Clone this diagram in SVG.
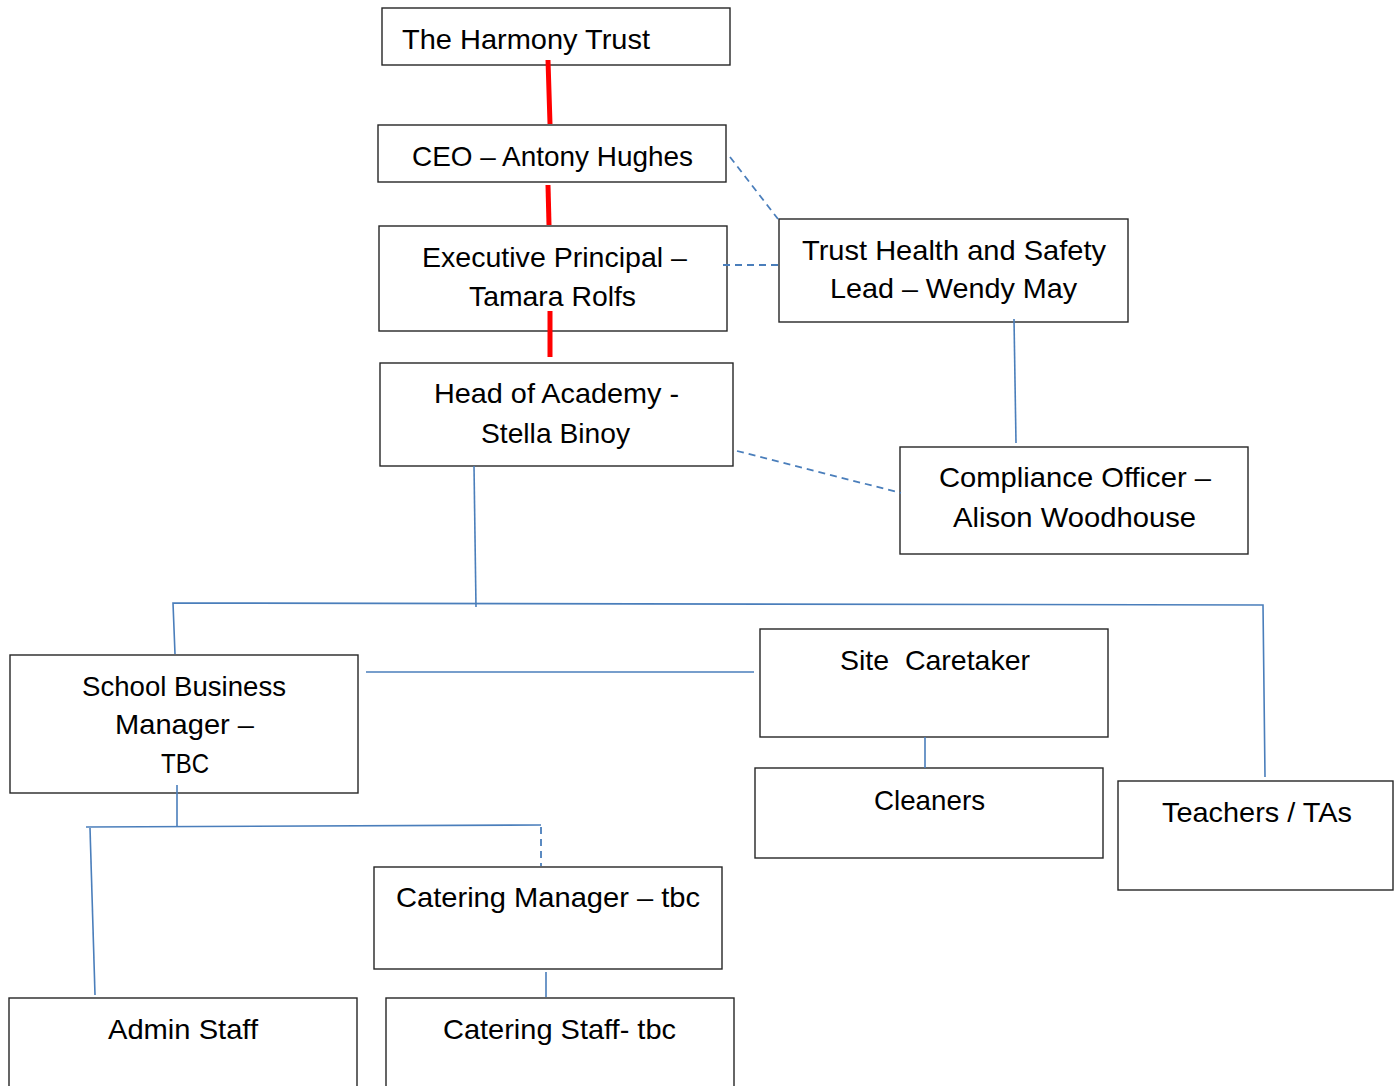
<svg xmlns="http://www.w3.org/2000/svg" width="1399" height="1086" viewBox="0 0 1399 1086">
<style>
.box{fill:#fff;stroke:#262626;stroke-width:1.4}
.t{font-family:"Liberation Sans",Arial,sans-serif;font-size:28px;fill:#000;text-anchor:middle}
.red{stroke:#ff0000;stroke-width:5;fill:none}
.bl{stroke:#4a7ebb;stroke-width:1.6;fill:none}
.dash{stroke:#4a7ebb;stroke-width:1.8;fill:none;stroke-dasharray:7 5}
</style>
<rect width="1399" height="1086" fill="#fff"/>
<g id="harmony"><rect class="box" x="382" y="8" width="348" height="57"/><text class="t" x="526" y="49" textLength="248" lengthAdjust="spacingAndGlyphs">The Harmony Trust</text></g>
<g id="ceo"><rect class="box" x="378" y="125" width="348" height="57"/><text class="t" x="552.5" y="166" textLength="281" lengthAdjust="spacingAndGlyphs">CEO – Antony Hughes</text></g>
<g id="exec"><rect class="box" x="379" y="226" width="348" height="105"/><text class="t" x="554.5" y="267" textLength="265" lengthAdjust="spacingAndGlyphs">Executive Principal –</text><text class="t" x="552.5" y="306" textLength="167" lengthAdjust="spacingAndGlyphs">Tamara Rolfs</text></g>
<g id="head"><rect class="box" x="380" y="363" width="353" height="103"/><text class="t" x="556.5" y="403" textLength="245" lengthAdjust="spacingAndGlyphs">Head of Academy -</text><text class="t" x="555.5" y="443" textLength="149" lengthAdjust="spacingAndGlyphs">Stella Binoy</text></g>
<g id="hs"><rect class="box" x="779" y="219" width="349" height="103"/><text class="t" x="954" y="260" textLength="304" lengthAdjust="spacingAndGlyphs">Trust Health and Safety</text><text class="t" x="953.5" y="298" textLength="247" lengthAdjust="spacingAndGlyphs">Lead – Wendy May</text></g>
<g id="compliance"><rect class="box" x="900" y="447" width="348" height="107"/><text class="t" x="1075" y="487" textLength="272" lengthAdjust="spacingAndGlyphs">Compliance Officer –</text><text class="t" x="1074.5" y="527" textLength="243" lengthAdjust="spacingAndGlyphs">Alison Woodhouse</text></g>
<g id="sbm"><rect class="box" x="10" y="655" width="348" height="138"/><text class="t" x="184" y="696" textLength="204" lengthAdjust="spacingAndGlyphs">School Business</text><text class="t" x="184.5" y="734" textLength="139" lengthAdjust="spacingAndGlyphs">Manager –</text><text class="t" x="185" y="773" textLength="48" lengthAdjust="spacingAndGlyphs">TBC</text></g>
<g id="caretaker"><rect class="box" x="760" y="629" width="348" height="108"/><text class="t" x="935" y="670" textLength="190" lengthAdjust="spacingAndGlyphs" xml:space="preserve">Site  Caretaker</text></g>
<g id="cleaners"><rect class="box" x="755" y="768" width="348" height="90"/><text class="t" x="929.5" y="810" textLength="111" lengthAdjust="spacingAndGlyphs">Cleaners</text></g>
<g id="teachers"><rect class="box" x="1118" y="781" width="275" height="109"/><text class="t" x="1257" y="822" textLength="190" lengthAdjust="spacingAndGlyphs">Teachers / TAs</text></g>
<g id="cateringmgr"><rect class="box" x="374" y="867" width="348" height="102"/><text class="t" x="548" y="907" textLength="304" lengthAdjust="spacingAndGlyphs">Catering Manager – tbc</text></g>
<g id="admin"><rect class="box" x="9" y="998" width="348" height="100"/><text class="t" x="183" y="1039" textLength="150" lengthAdjust="spacingAndGlyphs">Admin Staff</text></g>
<g id="cateringstaff"><rect class="box" x="386" y="998" width="348" height="100"/><text class="t" x="559.5" y="1039" textLength="233" lengthAdjust="spacingAndGlyphs">Catering Staff- tbc</text></g>
<g id="connectors">
<line class="red" x1="548" y1="60" x2="550" y2="124"/>
<line class="red" x1="548" y1="185" x2="549" y2="225"/>
<line class="red" x1="550" y1="311" x2="550" y2="357"/>
<line class="dash" x1="730" y1="157" x2="778" y2="219"/>
<line class="dash" x1="723" y1="265" x2="782" y2="265"/>
<line class="dash" x1="737" y1="451" x2="901" y2="493"/>
<line class="bl" x1="1014" y1="319" x2="1016" y2="443"/>
<line class="bl" x1="474" y1="466" x2="476" y2="607"/>
<polyline class="bl" points="175,654 173,603 1263,605 1265,777"/>
<line class="bl" x1="366" y1="672" x2="754" y2="672"/>
<line class="bl" x1="925" y1="737" x2="925" y2="768"/>
<line class="bl" x1="177" y1="785" x2="177" y2="827"/>
<line class="bl" x1="86" y1="827" x2="541" y2="825"/>
<line class="bl" x1="90" y1="828" x2="95" y2="995"/>
<line class="dash" x1="541" y1="827" x2="541" y2="866"/>
<line class="bl" x1="546" y1="972" x2="546" y2="997"/>
</g>
</svg>
